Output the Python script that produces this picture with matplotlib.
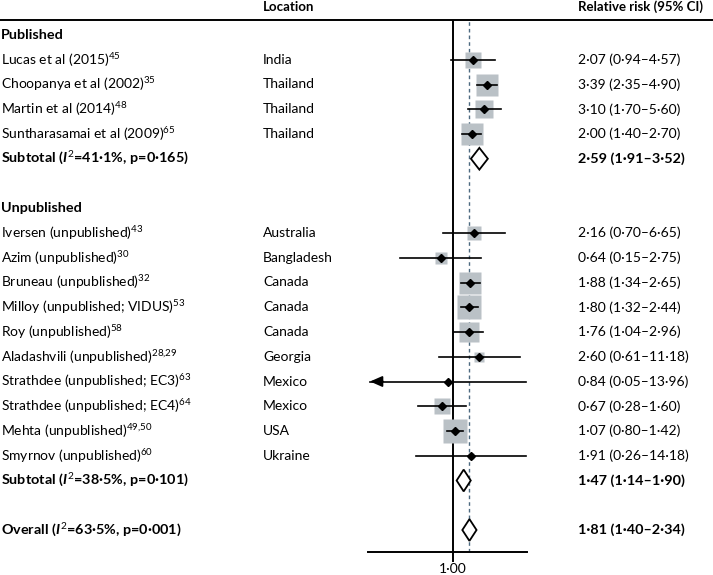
import matplotlib
matplotlib.use('Agg')
import matplotlib.pyplot as plt
from matplotlib.lines import Line2D
from matplotlib.transforms import blended_transform_factory

plt.rcParams['font.family'] = ['Lato', 'DejaVu Sans']
plt.rcParams['mathtext.fontset'] = 'custom'
plt.rcParams['mathtext.rm'] = 'Lato'
plt.rcParams['mathtext.it'] = 'Lato:italic:bold'
plt.rcParams['mathtext.bf'] = 'Lato:bold'

# published studies
pub_names = ['Lucas et al (2015)$^{45}$', 'Choopanya et al (2002)$^{35}$',
             'Martin et al (2014)$^{48}$', 'Suntharasamai et al (2009)$^{65}$']
pub_locations = ['India', 'Thailand', 'Thailand', 'Thailand']
pub_rr = [2.07, 3.39, 3.10, 2.00]
pub_lo = [0.94, 2.35, 1.70, 1.40]
pub_hi = [4.57, 4.90, 5.60, 2.70]
pub_weight = [6.5, 11.0, 8.1, 11.6]
pub_subtotal = [2.59, 1.91, 3.52]
pub_i2, pub_p = '41·1', '0·165'

# unpublished studies
unpub_names = ['Iversen (unpublished)$^{43}$', 'Azim (unpublished)$^{30}$',
               'Bruneau (unpublished)$^{32}$', 'Milloy (unpublished; VIDUS)$^{53}$',
               'Roy (unpublished)$^{58}$', 'Aladashvili (unpublished)$^{28{,}29}$',
               'Strathdee (unpublished; EC3)$^{63}$', 'Strathdee (unpublished; EC4)$^{64}$',
               'Mehta (unpublished)$^{49{,}50}$', 'Smyrnov (unpublished)$^{60}$']
unpub_locations = ['Australia', 'Bangladesh', 'Canada', 'Canada', 'Canada',
                   'Georgia', 'Mexico', 'Mexico', 'USA', 'Ukraine']
unpub_rr = [2.16, 0.64, 1.88, 1.80, 1.76, 2.60, 0.84, 0.67, 1.07, 1.91]
unpub_lo = [0.70, 0.15, 1.34, 1.32, 1.04, 0.61, 0.05, 0.28, 0.80, 0.26]
unpub_hi = [6.65, 2.75, 2.65, 2.44, 2.96, 11.18, 13.96, 1.60, 1.42, 14.18]
unpub_weight = [4.1, 3.0, 11.6, 12.3, 9.3, 2.8, 0.1, 6.0, 12.6, 1.1]
unpub_subtotal = [1.47, 1.14, 1.90]
unpub_i2, unpub_p = '38·5', '0·101'

overall = [1.81, 1.40, 2.34]
overall_i2, overall_p = '63·5', '0·001'

x_min, x_max = 0.0465, 14.46
row_step = 24.75


def fmt_rr(rr, lo, hi):
    s = '{:.2f} ({:.2f}–{:.2f})'.format(rr, lo, hi)
    return s.replace('.', '·')


fig = plt.figure(figsize=(7.13, 5.75), dpi=100)
W, H = 713, 575
ax = fig.add_axes([368 / W, 1 - 552 / H, 159 / W, 532 / H])
ax.set_xscale('log')
ax.set_xlim(x_min, x_max)
top_row = (20 - 35) / row_step
bottom_row = (552 - 35) / row_step
ax.set_ylim(bottom_row, top_row)
for side in ['top', 'left', 'right']:
    ax.spines[side].set_visible(False)
ax.spines['bottom'].set_linewidth(1.4)
ax.set_yticks([])
ax.set_xticks([1])
ax.set_xticklabels(['1·00'], fontsize=10)
ax.minorticks_off()
ax.tick_params(axis='x', length=7, width=1.4, pad=1)

ax.axvline(1, color='black', lw=1.4, zorder=2)
ax.axvline(overall[0], color='#4d6a80', lw=1.0, ls=(0, (2.6, 2.2)), zorder=1)

trans = blended_transform_factory(fig.transFigure, ax.transData)
col_name, col_loc, col_rr = 1 / W, 263 / W, 578 / W
fs = 10
fs_bold = 10.4


def study_row(y, name, loc, rr, lo, hi, w):
    ax.text(col_name, y, name, transform=trans, fontsize=fs, va='center', clip_on=False)
    ax.text(col_loc, y, loc, transform=trans, fontsize=fs, va='center', clip_on=False)
    ax.text(col_rr, y, fmt_rr(rr, lo, hi), transform=trans, fontsize=fs, va='center', clip_on=False)
    side = 6.56 * w ** 0.5 * 0.72
    ax.plot([rr], [y], marker='s', ms=side, color='#bac1c6', mec='none', zorder=3)
    ax.plot([lo, hi], [y, y], color='black', lw=1.2, zorder=4)
    if lo < x_min * 1.1:
        ax.annotate('', xy=(lo, y), xytext=(lo * 1.6, y),
                    arrowprops=dict(arrowstyle='-|>,head_length=0.75,head_width=0.33',
                                    color='black', lw=1.2, shrinkA=0, shrinkB=0),
                    zorder=4)
    ax.plot([rr], [y], marker='D', ms=3.8, color='black', zorder=5)


def summary_row(y, label, est, lo, hi):
    ax.text(col_name, y, label, transform=trans, fontsize=fs_bold, va='center',
            fontweight='bold', clip_on=False)
    ax.text(col_rr, y, fmt_rr(est, lo, hi), transform=trans, fontsize=fs_bold, va='center',
            fontweight='bold', clip_on=False)
    h = 0.44
    ax.fill([lo, est, hi, est], [y, y - h, y, y + h], facecolor='white',
            edgecolor='black', lw=1.3, zorder=4)


row = 0
ax.text(col_name, row, 'Published', transform=trans, fontsize=fs_bold, va='center',
        fontweight='bold', clip_on=False)
row += 1
for i in range(len(pub_names)):
    study_row(row, pub_names[i], pub_locations[i], pub_rr[i], pub_lo[i], pub_hi[i], pub_weight[i])
    row += 1
summary_row(row, 'Subtotal ($I^2$=' + pub_i2 + '%, p=' + pub_p + ')', *pub_subtotal)
row += 2
ax.text(col_name, row, 'Unpublished', transform=trans, fontsize=fs_bold, va='center',
        fontweight='bold', clip_on=False)
row += 1
for i in range(len(unpub_names)):
    study_row(row, unpub_names[i], unpub_locations[i], unpub_rr[i], unpub_lo[i],
              unpub_hi[i], unpub_weight[i])
    row += 1
summary_row(row, 'Subtotal ($I^2$=' + unpub_i2 + '%, p=' + unpub_p + ')', *unpub_subtotal)
row += 2
summary_row(row, 'Overall ($I^2$=' + overall_i2 + '%, p=' + overall_p + ')', *overall)

# header
fig.text(263 / W, 1 - 7 / H, 'Location', fontsize=9.5, va='center', fontweight='bold')
fig.text(578 / W, 1 - 7 / H, 'Relative risk (95% CI)', fontsize=9.5, va='center',
         fontweight='bold')
fig.add_artist(Line2D([0, 1], [1 - 20 / H, 1 - 20 / H], color='black', lw=1.4,
                      transform=fig.transFigure))

plt.savefig('out.png', dpi=100)
